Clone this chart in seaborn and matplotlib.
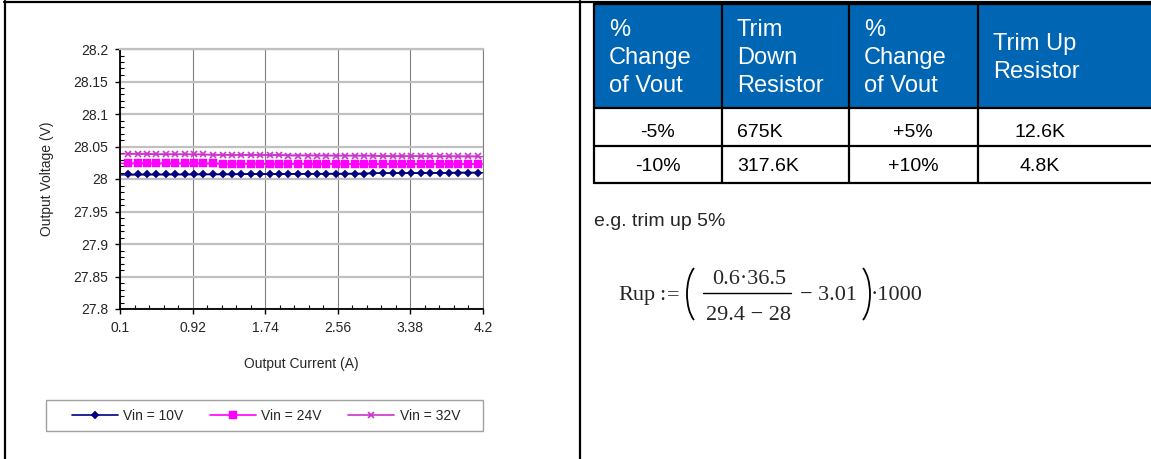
import numpy as np
import pandas as pd
import matplotlib
matplotlib.use("Agg")
import matplotlib.pyplot as plt
from matplotlib.patches import Rectangle, Arc
from matplotlib.ticker import AutoMinorLocator
import seaborn as sns

# output current (A)
current = [0.19, 0.30, 0.40, 0.51, 0.62, 0.72, 0.83, 0.94, 1.04, 1.15,
           1.26, 1.36, 1.47, 1.58, 1.68, 1.79, 1.90, 2.00, 2.11, 2.22,
           2.32, 2.43, 2.54, 2.64, 2.75, 2.86, 2.96, 3.07, 3.18, 3.28,
           3.39, 3.50, 3.60, 3.71, 3.82, 3.92, 4.03, 4.14]

vin_10 = [28.007, 28.007, 28.007, 28.007, 28.007, 28.007, 28.007, 28.007, 28.007, 28.007,
          28.007, 28.007, 28.0075, 28.0075, 28.0075, 28.0075, 28.0075, 28.0075, 28.008, 28.008,
          28.008, 28.008, 28.008, 28.008, 28.008, 28.008, 28.009, 28.009, 28.009, 28.009,
          28.009, 28.009, 28.0095, 28.0095, 28.0095, 28.010, 28.010, 28.010]
vin_24 = [28.024, 28.024, 28.024, 28.024, 28.024, 28.024, 28.024, 28.024, 28.024, 28.024,
          28.0235, 28.0235, 28.0235, 28.0235, 28.0235, 28.0235, 28.0235, 28.0235, 28.0235, 28.0235,
          28.0235, 28.0235, 28.0235, 28.0235, 28.023, 28.023, 28.023, 28.023, 28.023, 28.023,
          28.023, 28.023, 28.023, 28.023, 28.023, 28.023, 28.023, 28.023]
vin_32 = [28.039, 28.039, 28.039, 28.038, 28.038, 28.038, 28.038, 28.038, 28.038, 28.037,
          28.037, 28.037, 28.037, 28.037, 28.037, 28.037, 28.037, 28.036, 28.036, 28.036,
          28.036, 28.036, 28.036, 28.036, 28.036, 28.036, 28.036, 28.035, 28.035, 28.035,
          28.035, 28.035, 28.035, 28.035, 28.035, 28.035, 28.035, 28.035]

series_names = ["Vin = 10V", "Vin = 24V", "Vin = 32V"]
x_ticks = [0.1, 0.92, 1.74, 2.56, 3.38, 4.2]
y_ticks = [27.8, 27.85, 27.9, 27.95, 28.0, 28.05, 28.1, 28.15, 28.2]

header = ["%\nChange\nof Vout", "Trim\nDown\nResistor", "%\nChange\nof Vout", "Trim Up\nResistor"]
rows = [["-5%", "675K", "+5%", "12.6K"],
        ["-10%", "317.6K", "+10%", "4.8K"]]
note = "e.g. trim up 5%"
f_lhs, f_colon, f_eq = "Rup", ":", "="
f_num, f_den = "0.6\u00b736.5", "29.4 \u2212 28"
f_minus, f_mult = "\u2212 3.01", "\u00b71000"

sns.set_style("white")
plt.rcParams["font.family"] = ["Liberation Sans", "DejaVu Sans"]

df = pd.DataFrame({
    "current": current * 3,
    "voltage": vin_10 + vin_24 + vin_32,
    "series": np.repeat(series_names, len(current)),
})

W, H = 1151, 459
fig = plt.figure(figsize=(W / 100, H / 100), dpi=100)

# background layer in pixel coordinates: frame, table, formula
bg = fig.add_axes([0, 0, 1, 1])
bg.set_xlim(0, W)
bg.set_ylim(H, 0)
bg.axis("off")

bg.plot([4, W + 5], [1.5, 1.5], color="black", lw=1.6)
bg.plot([5, 5], [1, H + 5], color="black", lw=1.6)
bg.plot([580, 580], [1, H + 5], color="black", lw=1.6)

blue = "#0066B3"
bg.add_patch(Rectangle((594, 4), W - 594 + 10, 104, facecolor=blue, edgecolor="none"))
for yy in [4, 108, 146, 183]:
    bg.plot([594, W + 10], [yy, yy], color="black", lw=1.6)
for xx in [594, 722, 849, 978]:
    bg.plot([xx, xx], [4, 183], color="black", lw=1.6)

head_x = [609, 737, 864, 993]
for x0, txt in zip(head_x, header):
    bg.text(x0, 58, txt, color="white", fontsize=17, ha="left", va="center",
            linespacing=1.33)

body_x = [658, 737, 913, 1040]
body_ha = ["center", "left", "center", "center"]
for yb, row in zip([137, 171], rows):
    for x0, ha, txt in zip(body_x, body_ha, row):
        bg.text(x0, yb, txt, color="black", fontsize=14, ha=ha, va="baseline")

bg.text(594, 222, note, fontsize=14, ha="left", va="center")

# formula, set piece by piece in a serif face
serif = dict(family=["Liberation Serif", "DejaVu Serif"], fontsize=16, va="baseline")
bg.text(618, 300, f_lhs, ha="left", **serif)
bg.text(659, 300, f_colon, ha="left", **serif)
bg.text(667, 300, f_eq, ha="left", **serif)
bg.text(749, 284, f_num, ha="center", **serif)
bg.plot([703, 791], [293, 293], color="black", lw=1.0)
bg.text(749, 320, f_den, ha="center", **serif)
bg.text(800, 300, f_minus, ha="left", **serif)
bg.text(871, 300, f_mult, ha="left", **serif)
bg.add_patch(Arc((701, 294), 28, 60, theta1=105, theta2=255, color="black", lw=1.3))
bg.add_patch(Arc((856, 294), 28, 60, theta1=-75, theta2=75, color="black", lw=1.3))

# legend box
bg.add_patch(Rectangle((46, 400), 437, 31, facecolor="none", edgecolor="#A0A0A0", lw=1))

# chart
ax = fig.add_axes([120 / W, 1 - 309 / H, 363 / W, 260 / H])
ax.set_facecolor("white")
ax.set_xlim(0.1, 4.2)
ax.set_ylim(27.8, 28.2)

palette = {"Vin = 10V": "#000080", "Vin = 24V": "#FF00FF", "Vin = 32V": "#CC33CC"}
markers = {"Vin = 10V": "D", "Vin = 24V": "s", "Vin = 32V": "x"}
sizes = {"Vin = 10V": 4.3, "Vin = 24V": 5.2, "Vin = 32V": 4.5}

for name in series_names:
    sub = df[df["series"] == name]
    sns.lineplot(data=sub, x="current", y="voltage", color=palette[name],
                 marker=markers[name], markersize=sizes[name],
                 markeredgecolor=palette[name], markerfacecolor=palette[name],
                 markeredgewidth=1.2 if name == "Vin = 32V" else 0.3,
                 linewidth=1.2, legend=False, ax=ax)
series_lines = ax.get_lines()[:3]

for name in series_names:
    sns.regplot(data=df[df["series"] == name], x="current", y="voltage", scatter=False,
                ci=None, truncate=False, color=palette[name],
                line_kws={"lw": 1.0}, ax=ax)

ax.set_xlim(0.1, 4.2)
ax.set_ylim(27.8, 28.2)
ax.set_xticks(x_ticks)
ax.set_xticklabels([f"{v:g}" for v in x_ticks])
ax.set_yticks(y_ticks)
ax.set_yticklabels([f"{v:g}" for v in y_ticks])
ax.xaxis.set_minor_locator(AutoMinorLocator(5))
ax.yaxis.set_minor_locator(AutoMinorLocator(5))
ax.tick_params(which="major", direction="out", length=3.5, width=1, color="black",
               labelsize=10, pad=5, bottom=True, left=True)
ax.tick_params(which="minor", direction="in", length=3, width=0.8, color="black",
               bottom=True, left=True)

ax.yaxis.grid(True, which="major", color="#C0C0C0", lw=1.6)
ax.xaxis.grid(True, which="major", color="#808080", lw=0.8)
ax.set_axisbelow(True)
for side in ["left", "bottom"]:
    ax.spines[side].set_color("black")
    ax.spines[side].set_linewidth(1.3)
ax.spines["top"].set_color("#C0C0C0")
ax.spines["top"].set_linewidth(1.6)
ax.spines["right"].set_color("#808080")
ax.spines["right"].set_linewidth(0.8)

ax.set_xlabel("Output Current (A)", fontsize=10, labelpad=16)
ax.set_ylabel("Output Voltage (V)", fontsize=10, labelpad=14)

fig.legend(handles=series_lines, labels=series_names, loc="center",
           bbox_to_anchor=(266 / W, 1 - 415.5 / H), ncol=3, frameon=False,
           handlelength=3.3, handletextpad=0.4, columnspacing=1.9, fontsize=10)

fig.savefig("out.png", dpi=100)
